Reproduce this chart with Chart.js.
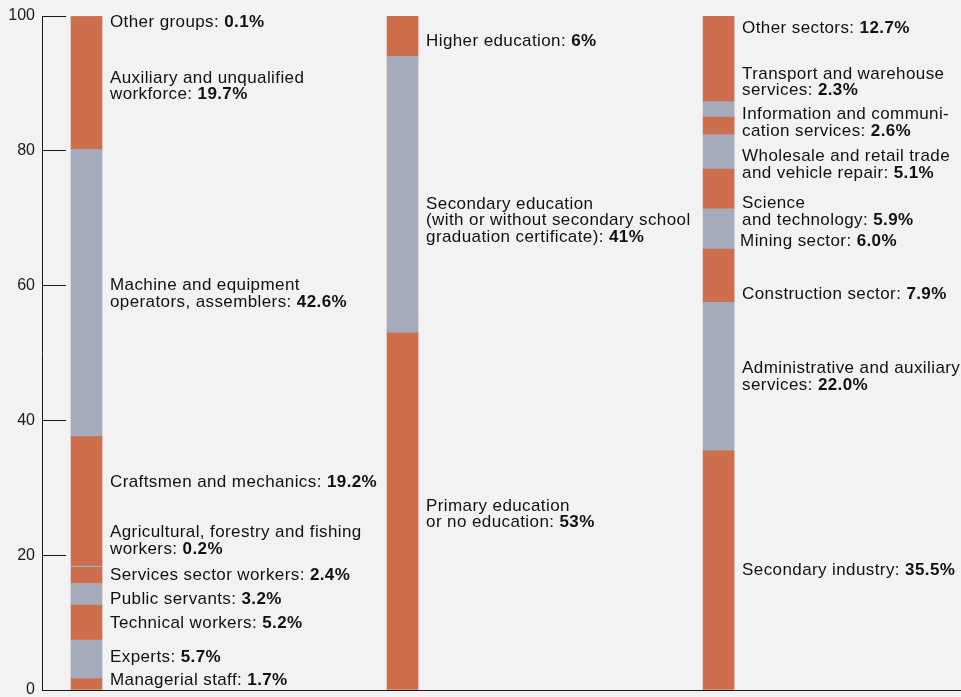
<!DOCTYPE html>
<html>
<head>
<meta charset="utf-8">
<script src="https://cdn.jsdelivr.net/npm/chart.js@4"></script>
<style>
  html, body { margin: 0; padding: 0; background: #f2f2f2; }
  canvas { display: block; }
</style>
</head>
<body>
<canvas id="chart" width="961" height="697"></canvas>
<script>
// three stacked columns, segments listed bottom-up
const columns = ['Occupation', 'Education', 'Sector'];

const occupationNames = [
  'Managerial staff', 'Experts', 'Technical workers', 'Public servants',
  'Services sector workers', 'Agricultural, forestry and fishing\nworkers',
  'Craftsmen and mechanics', 'Machine and equipment\noperators, assemblers',
  'Auxiliary and unqualified\nworkforce', 'Other groups'
];
const occupationValues = [1.7, 5.7, 5.2, 3.2, 2.4, 0.2, 19.2, 42.6, 19.7, 0.1];

const educationNames = [
  'Primary education\nor no education',
  'Secondary education\n(with or without secondary school\ngraduation certificate)',
  'Higher education'
];
const educationValues = [53, 41, 6];

const sectorNames = [
  'Secondary industry', 'Administrative and auxiliary\nservices', 'Construction sector',
  'Mining sector', 'Science\nand technology', 'Wholesale and retail trade\nand vehicle repair',
  'Information and communi-\ncation services', 'Transport and warehouse\nservices', 'Other sectors'
];
const sectorValues = [35.5, 22.0, 7.9, 6.0, 5.9, 5.1, 2.6, 2.3, 12.7];

const yTicks = [0, 20, 40, 60, 80, 100];

// label layout: vertical nudge (px) from the segment middle, decimals shown
const occupationShift = [-4, -2, 1, 5, 0, -26, -19, 1, 3, 6];
const educationShift = [3, 26, 5];
const sectorShift = [0, 0, 18, 12, 23, 13, -3, -27, -30];
const decimals = [1, 0, 1];

const ORANGE = '#cd6e4c';
const GREY = '#a6abbb';
const FONT = '"Liberation Sans", Arial, sans-serif';

const groups = [
  { names: occupationNames, values: occupationValues, shift: occupationShift },
  { names: educationNames, values: educationValues, shift: educationShift },
  { names: sectorNames, values: sectorValues, shift: sectorShift }
];

const levels = Math.max(...groups.map(g => g.values.length));
const datasets = [];
for (let i = 0; i < levels; i++) {
  const pts = [];
  groups.forEach((g, c) => {
    if (i < g.values.length) {
      pts.push({ x: c, y: g.values[i], name: g.names[i], shift: g.shift[i], col: c });
    }
  });
  datasets.push({
    data: pts,
    backgroundColor: i % 2 ? GREY : ORANGE,
    borderWidth: 0,
    barThickness: 31
  });
}

const segmentLabels = {
  id: 'segmentLabels',
  afterDatasetsDraw(chart) {
    const ctx = chart.ctx;
    ctx.save();
    ctx.fillStyle = '#111';
    ctx.textBaseline = 'middle';
    ctx.textAlign = 'left';
    ctx.letterSpacing = '0.4px';
    const lineH = 16.5;
    chart.data.datasets.forEach((ds, di) => {
      chart.getDatasetMeta(di).data.forEach((bar, j) => {
        const p = ds.data[j];
        const lines = p.name.split('\n');
        const x = bar.x + bar.width / 2 + 8 + (p.name === 'Mining sector' ? -2 : 0);
        const cy = (bar.y + bar.base) / 2 + p.shift;
        let y = cy - (lines.length - 1) * lineH / 2;
        lines.forEach((line, k) => {
          ctx.font = '17px ' + FONT;
          if (k === lines.length - 1) {
            const head = line + ': ';
            ctx.fillText(head, x, y);
            const w = ctx.measureText(head).width;
            ctx.font = 'bold 17px ' + FONT;
            ctx.fillText(p.y.toFixed(decimals[p.col]) + '%', x + w, y);
          } else {
            ctx.fillText(line, x, y);
          }
          y += lineH;
        });
      });
    });
    ctx.restore();
  }
};

new Chart(document.getElementById('chart'), {
  type: 'bar',
  data: { labels: columns, datasets },
  options: {
    responsive: false,
    animation: false,
    layout: { padding: { top: 16, right: 0, bottom: 7, left: 0 } },
    plugins: { legend: { display: false }, tooltip: { enabled: false } },
    scales: {
      x: {
        type: 'linear',
        stacked: true,
        offset: false,
        min: -0.1408,
        max: 2.767,
        afterFit: s => { s.height = 0; },
        ticks: { display: false },
        grid: { display: false, drawTicks: false, offset: false },
        border: { display: true, color: '#1a1a1a', width: 1 }
      },
      y: {
        stacked: true,
        min: 0,
        max: 100,
        afterBuildTicks: s => { s.ticks = yTicks.map(v => ({ value: v })); },
        afterFit: s => { s.width = 42; s.paddingTop = 0; s.paddingBottom = 0; },
        ticks: { color: '#1a1a1a', font: { family: FONT, size: 16 }, padding: 31 },
        grid: { drawOnChartArea: false, tickLength: -24, color: '#1a1a1a', lineWidth: 1 },
        border: { display: true, color: '#1a1a1a', width: 1 }
      }
    }
  },
  plugins: [segmentLabels]
});
</script>
</body>
</html>
